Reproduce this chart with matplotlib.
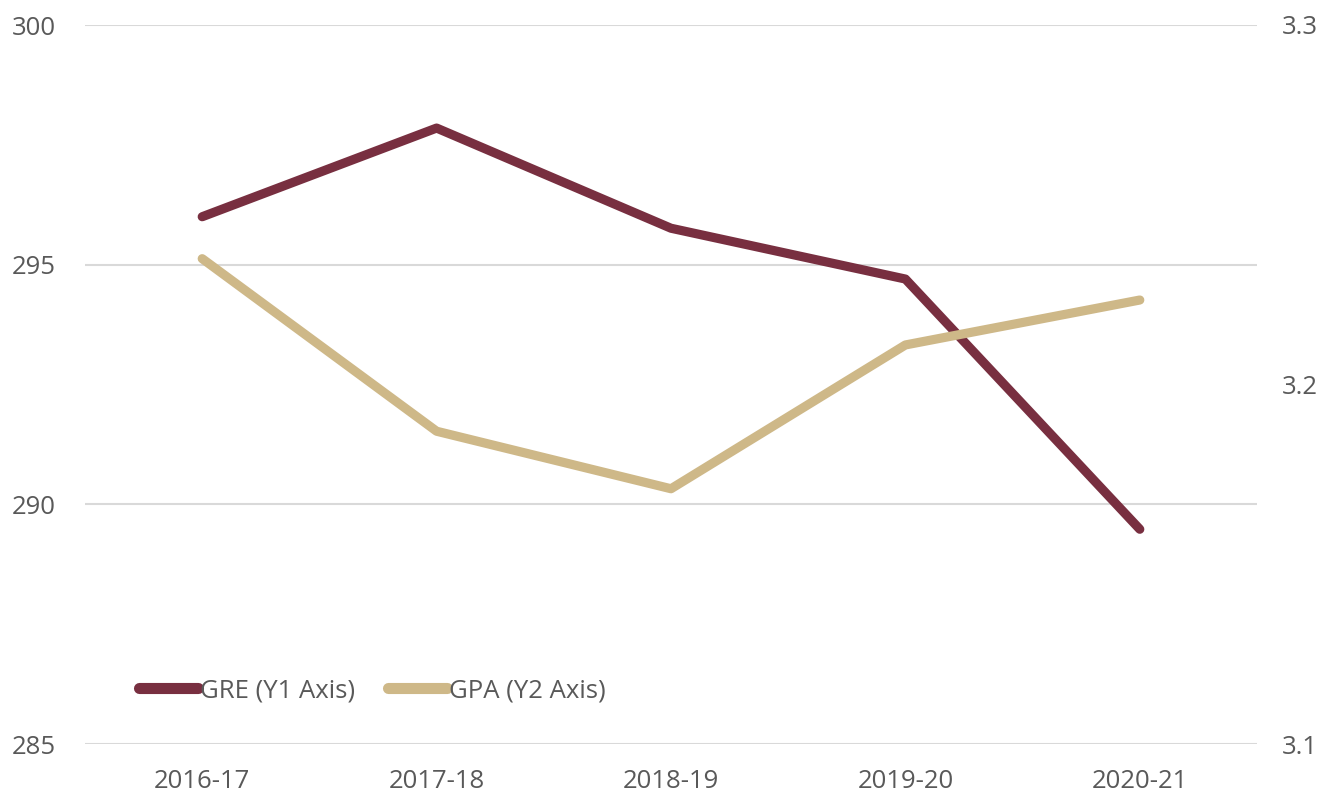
import matplotlib.pyplot as plt
import numpy as np

years = ['2016-17', '2017-18', '2018-19', '2019-20', '2020-21']
gre = [296.0, 297.85, 295.76, 294.7, 289.48]
gpa = [3.235, 3.187, 3.171, 3.211, 3.2235]

garnet = '#782F40'
gold = '#CEB888'
txt = '#595959'

plt.rcParams['font.family'] = ['Open Sans', 'DejaVu Sans']

fig = plt.figure(figsize=(13.24, 7.96), dpi=100)
ax = fig.add_axes([85 / 1324, 1 - 744 / 796, (1257 - 85) / 1324, (744 - 25) / 796])
ax2 = ax.twinx()

x = np.arange(len(years))
l1, = ax.plot(x, gre, color=garnet, lw=6.6, solid_capstyle='round', solid_joinstyle='round',
              label='GRE (Y1 Axis)', zorder=3)
l2, = ax2.plot(x, gpa, color=gold, lw=6.6, solid_capstyle='round', solid_joinstyle='round',
               label='GPA (Y2 Axis)', zorder=3)

ax.set_xlim(-0.5, 4.5)
ax.set_ylim(285, 300)
ax.set_yticks([285, 290, 295, 300])
ax2.set_ylim(3.1, 3.3)
ax2.set_yticks([3.1, 3.2, 3.3])
ax2.set_yticklabels(['3.1', '3.2', '3.3'])
ax.set_xticks(x)
ax.set_xticklabels(years)

ax.grid(axis='y', color='#d9d9d9', lw=1.5)
ax.set_axisbelow(True)
for a in (ax, ax2):
    for s in a.spines.values():
        s.set_visible(False)
    a.tick_params(length=0, labelsize=18.5, colors=txt)
ax.tick_params(axis='y', pad=21)
ax2.tick_params(axis='y', pad=18)
ax.tick_params(axis='x', pad=18)

leg = ax2.legend(handles=[l1, l2], loc='center left', bbox_to_anchor=(0.026, 0.074),
                 frameon=False, fontsize=18.5, handlelength=2.3, handletextpad=0.08,
                 columnspacing=1.3, ncol=2, labelcolor=txt)
for h in leg.get_lines():
    h.set_linewidth(8)

fig.savefig('out.png', dpi=100)
